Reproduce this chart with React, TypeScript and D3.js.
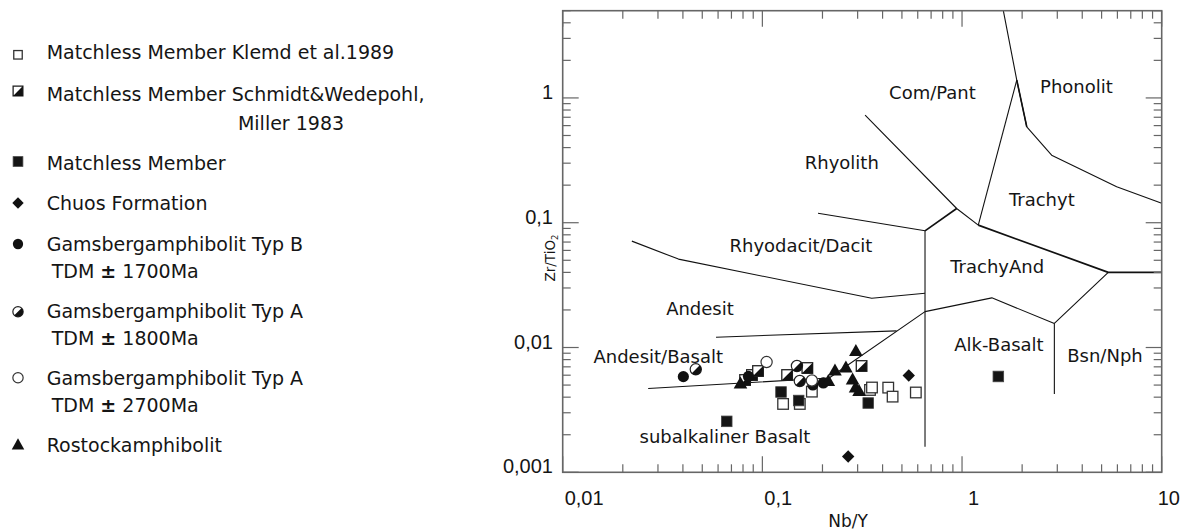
import React from 'react';
import * as d3 from 'd3';

// ---------- axis ticks ----------
const xTickValues = [0.01, 0.1, 1, 10];
const xTickLabels = ['0,01', '0,1', '1', '10'];
const yTickValues = [0.001, 0.01, 0.1, 1];
const yTickLabels = ['0,001', '0,01', '0,1', '1'];

// ---------- data (Nb/Y, Zr/TiO2) ----------
const klemd = [
  [0.127, 0.00353], [0.154, 0.00353], [0.177, 0.00443], [0.346, 0.00457],
  [0.354, 0.00478], [0.427, 0.00477], [0.449, 0.00404], [0.587, 0.00436],
];
const schmidt = [
  [0.0819, 0.00549], [0.0887, 0.00602], [0.0951, 0.00648], [0.133, 0.00602],
  [0.168, 0.00685], [0.314, 0.00711],
];
const matchless = [
  [0.0663, 0.00256], [0.124, 0.0044], [0.152, 0.00376], [0.339, 0.00359], [1.52, 0.00586],
];
const chuos = [[0.269, 0.00134], [0.541, 0.00597]];
const typB = [[0.0402, 0.00584], [0.0852, 0.00586], [0.179, 0.00501], [0.202, 0.0052]];
const typA1800 = [[0.0464, 0.00669], [0.149, 0.00711], [0.154, 0.00539]];
const typA2700 = [[0.105, 0.00765], [0.177, 0.00544]];
const rostock = [
  [0.0777, 0.0051], [0.214, 0.00534], [0.231, 0.00648], [0.262, 0.00685],
  [0.294, 0.00929], [0.283, 0.00549], [0.293, 0.00474], [0.305, 0.00444],
];

// ---------- field boundaries ----------
const phonoliteLine = [[1.61, 5], [1.88, 1.39], [2.11, 0.586], [2.81, 0.348], [5.95, 0.194], [10, 0.143]];
const trachyteComPant = [[1.88, 1.39], [1.206, 0.0957]];
const rhyoliteComPant = [[0.327, 0.727], [0.94, 0.13], [1.206, 0.0957]];
const rhyoliteRhyodacite = [[0.19, 0.119], [0.6525, 0.0861]];
const rhyodaciteKink = [[0.6525, 0.0861], [0.94, 0.13]];
const basaltVertical = [[0.6525, 0.0861], [0.6525, 0.0016]];
const trachyAndUpper = [[1.206, 0.0957], [5.4, 0.04], [10, 0.04]];
const trachyAndLower = [[0.6525, 0.0194], [1.41, 0.025], [2.9, 0.0156], [5.4, 0.04]];
const bsnNphLine = [[2.9, 0.0156], [2.9, 0.00424]];
const andesiteUpper = [[0.0222, 0.0712], [0.038, 0.0511], [0.353, 0.0248], [0.6525, 0.0272]];
const andesiteLower = [[0.0586, 0.0121], [0.47, 0.0136]];
const basaltLine = [[0.0268, 0.0047], [0.216, 0.0057], [0.6525, 0.0194]];

const fieldLabels = [
  { text: 'Com/Pant', x: 0.711, y: 0.976 },
  { text: 'Phonolit', x: 3.74, y: 1.09 },
  { text: 'Rhyolith', x: 0.25, y: 0.269 },
  { text: 'Trachyt', x: 2.51, y: 0.137 },
  { text: 'Rhyodacit/Dacit', x: 0.156, y: 0.0582 },
  { text: 'TrachyAnd', x: 1.5, y: 0.0395 },
  { text: 'Andesit', x: 0.0487, y: 0.0182 },
  { text: 'Andesit/Basalt', x: 0.0301, y: 0.0075 },
  { text: 'Alk-Basalt', x: 1.53, y: 0.00938 },
  { text: 'Bsn/Nph', x: 5.2, y: 0.0077 },
  { text: 'subalkaliner Basalt', x: 0.065, y: 0.00172 },
];

const legendLabels = [
  ['Matchless Member Klemd et al.1989'],
  ['Matchless Member Schmidt&Wedepohl,', 'Miller 1983'],
  ['Matchless Member'],
  ['Chuos Formation'],
  ['Gamsbergamphibolit Typ B', 'TDM|1700Ma'],
  ['Gamsbergamphibolit Typ A', 'TDM|1800Ma'],
  ['Gamsbergamphibolit Typ A', 'TDM|2700Ma'],
  ['Rostockamphibolit'],
];
const seriesShapes = ['openSquare', 'halfSquare', 'filledSquare', 'diamond', 'filledCircle', 'halfCircle', 'openCircle', 'triangle'];
const seriesData = [klemd, schmidt, matchless, chuos, typB, typA1800, typA2700, rostock];

const FONT = '"DejaVu Sans", sans-serif';
const NUMFONT = '"Liberation Sans", Arial, sans-serif';
const INK = '#151515';

function Marker({ shape, cx, cy, s = 1 }: { shape: string; cx: number; cy: number; s?: number }) {
  const h = 5.3 * s;
  const r = 5.6 * s;
  switch (shape) {
    case 'openSquare':
      return <rect x={cx - h} y={cy - h} width={2 * h} height={2 * h} fill="#fff" stroke="#333" strokeWidth={1.3} />;
    case 'halfSquare':
      return (
        <g>
          <rect x={cx - h} y={cy - h} width={2 * h} height={2 * h} fill="#fff" stroke="#222" strokeWidth={1.3} />
          <path d={`M${cx + h},${cy - h}L${cx + h},${cy + h}L${cx - h},${cy + h}Z`} fill="#111" />
        </g>
      );
    case 'filledSquare':
      return <rect x={cx - h} y={cy - h} width={2 * h} height={2 * h} fill="#151515" stroke="#444" strokeWidth={0.8} />;
    case 'diamond': {
      const d = 6.2 * s;
      return <path d={`M${cx},${cy - d}L${cx + d},${cy}L${cx},${cy + d}L${cx - d},${cy}Z`} fill="#111" />;
    }
    case 'filledCircle':
      return <circle cx={cx} cy={cy} r={r} fill="#111" />;
    case 'openCircle':
      return <circle cx={cx} cy={cy} r={r} fill="#fff" stroke="#333" strokeWidth={1.2} />;
    case 'halfCircle': {
      const c = r * Math.SQRT1_2;
      return (
        <g>
          <circle cx={cx} cy={cy} r={r} fill="#fff" stroke="#222" strokeWidth={1.2} />
          <path d={`M${cx + c},${cy - c}A${r},${r} 0 0 1 ${cx - c},${cy + c}Z`} fill="#111" />
        </g>
      );
    }
    case 'triangle': {
      const w = 6.8 * s;
      const ht = 12 * s;
      return <path d={`M${cx},${cy - ht * 0.62}L${cx + w},${cy + ht * 0.38}L${cx - w},${cy + ht * 0.38}Z`} fill="#111" />;
    }
    default:
      return null;
  }
}

export default function App() {
  const x = d3.scaleLog().domain([0.01, 10]).range([562.7, 1161.7]);
  const y = d3.scaleLog().domain([0.001, 5]).range([472.3, 10.7]);
  const line = d3.line<number[]>().x((d) => x(d[0])).y((d) => y(d[1]));

  const [x0, x1] = x.range();
  const [y0, y1] = y.range();

  const xTicksAll: { v: number; major: boolean }[] = [];
  [0.01, 0.1, 1].forEach((dec) => {
    for (let m = 1; m <= 9; m++) xTicksAll.push({ v: dec * m, major: m === 1 });
  });
  xTicksAll.push({ v: 10, major: true });
  const yTicksAll: { v: number; major: boolean }[] = [];
  [0.001, 0.01, 0.1, 1].forEach((dec) => {
    for (let m = 1; m <= 9; m++) {
      const v = dec * m;
      if (v <= 5.0001) yTicksAll.push({ v, major: m === 1 });
    }
  });

  const thin = [phonoliteLine, trachyteComPant, rhyoliteComPant, rhyoliteRhyodacite, basaltVertical, trachyAndLower, bsnNphLine, andesiteUpper, andesiteLower, basaltLine];
  const thick = [rhyodaciteKink, trachyAndUpper];

  const legendBaselines = [59.3, 101, 170, 210, 250.7, 318, 385, 451.7];
  const markerOffsets = [-4.5, -10, -8.5, -7, -6.7, -6.3, -7.3, -6.5];
  const xLabelDx = [2, 2, 6, -4];

  return (
    <svg width={1184} height={531} style={{ position: 'absolute', left: 0, top: 0, background: '#fff' }}>
      <rect x={0} y={0} width={1184} height={531} fill="#fff" />
      <g fill="none" stroke="#111" strokeLinejoin="round">
        {thin.map((l, i) => (
          <path key={'t' + i} d={line(l) || ''} strokeWidth={1.1} />
        ))}
        {thick.map((l, i) => (
          <path key={'k' + i} d={line(l) || ''} strokeWidth={1.7} />
        ))}
        <path d={line(phonoliteLine.slice(1, 3)) || ''} strokeWidth={1.6} />
      </g>

      <g fontFamily={FONT} fontSize={18} fill={INK} textAnchor="middle">
        {fieldLabels.map((f) => (
          <text key={f.text} x={x(f.x)} y={y(f.y)}>
            {f.text}
          </text>
        ))}
      </g>

      {seriesData.map((pts, si) => (
        <g key={'s' + si}>
          {pts.map((p, i) => (
            <Marker key={i} shape={seriesShapes[si]} cx={x(p[0])} cy={y(p[1])} />
          ))}
        </g>
      ))}

      <g stroke="#666" fill="none">
        <rect x={x0} y={y1} width={x1 - x0} height={y0 - y1} strokeWidth={1.6} />
        {xTicksAll.map((t, i) => {
          const px = x(t.v);
          const len = t.major ? 16 : 8;
          return (
            <g key={'xt' + i} strokeWidth={1.2}>
              <line x1={px} x2={px} y1={y0} y2={y0 - len} />
              <line x1={px} x2={px} y1={y1} y2={y1 + len} />
            </g>
          );
        })}
        {yTicksAll.map((t, i) => {
          const py = y(t.v);
          const len = t.major ? 16 : 8;
          return (
            <g key={'yt' + i} strokeWidth={1.2}>
              <line x1={x0} x2={x0 + len} y1={py} y2={py} />
              <line x1={x1} x2={x1 - len} y1={py} y2={py} />
            </g>
          );
        })}
      </g>

      <g fontFamily={NUMFONT} fontSize={20} fill={INK}>
        {xTickValues.map((v, i) => (
          <text key={'xl' + i} x={x(v) + xLabelDx[i]} y={505}>
            {xTickLabels[i]}
          </text>
        ))}
        {yTickValues.map((v, i) => (
          <text key={'yl' + i} x={553} y={y(v) + 1} textAnchor="end">
            {yTickLabels[i]}
          </text>
        ))}
      </g>

      <text x={848} y={527} fontFamily={FONT} fontSize={17} fill={INK} textAnchor="middle">
        Nb/Y
      </text>
      <text transform="translate(555,258) rotate(-90)" fontFamily={FONT} fontSize={13.5} fill={INK} textAnchor="middle">
        Zr/TiO
        <tspan fontSize={8.5} dy={3}>2</tspan>
      </text>

      <g fontFamily={FONT} fontSize={19} fill={INK}>
        {legendLabels.map((lines, i) => {
          const b = legendBaselines[i];
          return (
            <g key={'lg' + i}>
              <Marker shape={seriesShapes[i]} cx={18} cy={b + markerOffsets[i]} s={i === 0 ? 0.8 : 0.92} />
              <text x={46.7} y={b}>{lines[0]}</text>
              {lines[1] &&
                (lines[1].includes('|') ? (
                  <text x={51.7} y={b + 27.3}>
                    {lines[1].split('|')[0] + ' '}
                    <tspan fontWeight="bold">±</tspan>
                    {' ' + lines[1].split('|')[1]}
                  </text>
                ) : (
                  <text x={291} y={b + 29} textAnchor="middle">
                    {lines[1]}
                  </text>
                ))}
            </g>
          );
        })}
      </g>
    </svg>
  );
}
